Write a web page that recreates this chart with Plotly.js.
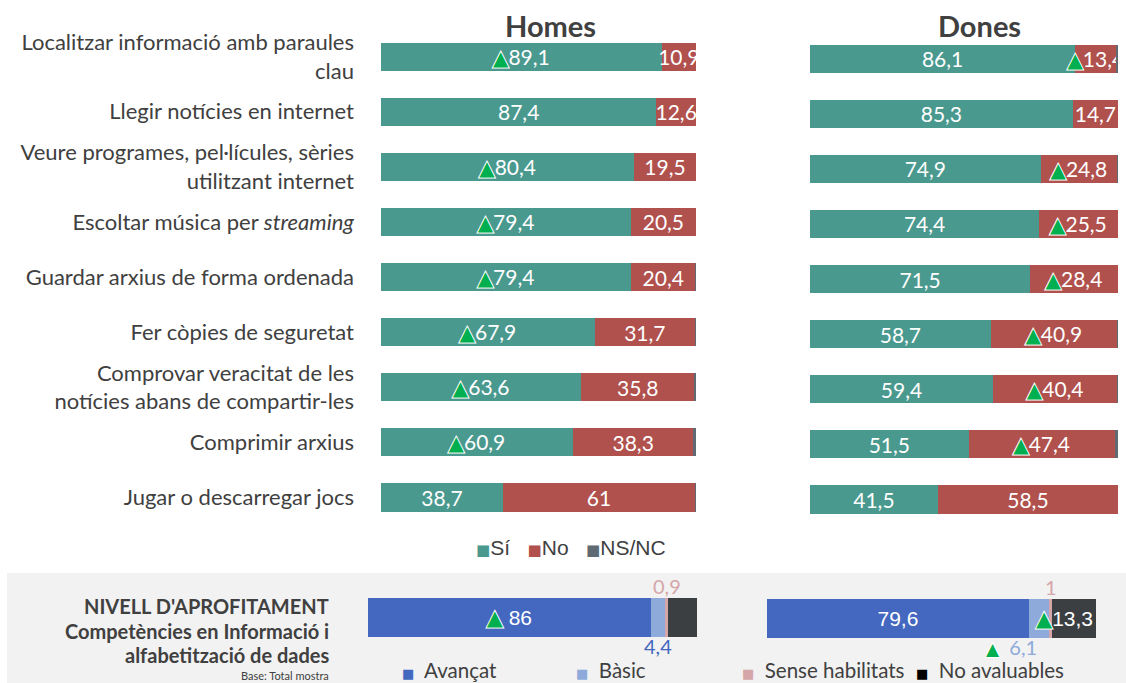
<!DOCTYPE html>
<html><head><meta charset="utf-8">
<script src="https://cdn.plot.ly/plotly-3.0.1.min.js"></script>
<style>html,body{margin:0;padding:0;background:#fff}#chart{width:1126px;height:683px}</style>
</head><body><div id="chart"></div>
<script>
// ---------- DATA ----------
const categories = [
  'Localitzar informació amb paraules<br>clau',
  'Llegir notícies en internet',
  'Veure programes, pel·lícules, sèries<br>utilitzant internet',
  'Escoltar música per <i>streaming</i>',
  'Guardar arxius de forma ordenada',
  'Fer còpies de seguretat',
  'Comprovar veracitat de les<br>notícies abans de compartir-les',
  'Comprimir arxius',
  'Jugar o descarregar jocs'
];
const panelTitles = ['Homes', 'Dones'];
const seriesNames = ['Sí', 'No', 'NS/NC'];
const homesSi   = [89.1, 87.4, 80.4, 79.4, 79.4, 67.9, 63.6, 60.9, 38.7];
const homesNo   = [10.9, 12.6, 19.5, 20.5, 20.4, 31.7, 35.8, 38.3, 61];
const homesNsnc = [0, 0, 0.1, 0.1, 0.2, 0.4, 0.6, 0.8, 0.3];
const homesSiSig = [1, 0, 1, 1, 1, 1, 1, 1, 0];
const donesSi   = [86.1, 85.3, 74.9, 74.4, 71.5, 58.7, 59.4, 51.5, 41.5];
const donesNo   = [13.4, 14.7, 24.8, 25.5, 28.4, 40.9, 40.4, 47.4, 58.5];
const donesNsnc = [0.5, 0, 0.3, 0.1, 0.1, 0.4, 0.2, 1.1, 0];
const donesNoSig = [1, 0, 1, 1, 1, 1, 1, 1, 0];

const levelTitle = ["NIVELL D'APROFITAMENT", 'Competències en Informació i', 'alfabetització de dades'];
const levelBase = 'Base: Total mostra';
const levelNames = ['Avançat', 'Bàsic', 'Sense habilitats', 'No avaluables'];
const homesLevel = [86, 4.4, 0.9, 8.8];
const donesLevel = [79.6, 6.1, 1, 13.3];
const homesLevelSig = [1, 0, 0, 0];
const donesLevelSig = [0, 1, 0, 1];

// ---------- STYLE ----------
const W = 1126, H = 683;
const px = x => x / W;
const py = y => 1 - y / H;
const serieColors = ['#4a998f', '#b0514d', '#5f6a72'];
const levelColors = ['#4468c0', '#8eaadb', '#d5a6a9', '#3b3f42'];
const textDark = '#404040';
const green = '#00b050';
const fmt = v => String(v).replace('.', ',');
const triSpan = (sz) => "<span style='color:" + green + ";font-family:DejaVu Sans;font-size:" + sz +
  "px;stroke:#ffffff;stroke-width:2px;paint-order:stroke'>▲</span>";
const tri = (s, sz) => triSpan(sz || 20) + (s || '');

const traces = [];
function topTraces(xa, ya, vals, sigIdx, sig) {
  vals.forEach((arr, k) => {
    const txt = arr.map((v, i) => {
      if (k === 2) return '';
      return (k === sigIdx && sig[i]) ? tri(fmt(v)) : fmt(v);
    });
    traces.push({
      type: 'bar', orientation: 'h', y: categories, x: arr,
      xaxis: xa, yaxis: ya, name: seriesNames[k], showlegend: false,
      marker: {color: serieColors[k]},
      text: txt, textposition: k === 2 ? 'none' : 'inside', textangle: 0,
      insidetextanchor: 'middle', constraintext: 'none',
      cliponaxis: xa === 'x',
      textfont: {family: 'Lato, sans-serif', size: 21, color: '#ffffff'},
      hoverinfo: 'skip'
    });
  });
}
topTraces('x', 'y', [homesSi, homesNo, homesNsnc], 0, homesSiSig);
topTraces('x2', 'y2', [donesSi, donesNo, donesNsnc], 1, donesNoSig);

const placement = ['inside', 'below', 'above', 'inside'];
const insideAnchor = ['middle', 'middle', 'middle', 'end'];
const annotations = [];
function levelTraces(xa, ya, cat, vals, sig, belowColor, belowAnchor, yAbove, yBelow) {
  let cum = 0;
  vals.forEach((v, i) => {
    const label = sig[i] ? tri((i === 0 ? ' ' : '') + fmt(v), 21) : fmt(v);
    traces.push({
      type: 'bar', orientation: 'h', y: [cat], x: [v], xaxis: xa, yaxis: ya,
      name: levelNames[i], showlegend: false, marker: {color: levelColors[i]},
      text: [placement[i] === 'inside' ? label : ''],
      textposition: placement[i] === 'inside' ? 'inside' : 'none', textangle: 0,
      insidetextanchor: insideAnchor[i], constraintext: 'none', cliponaxis: false,
      textfont: {family: '"Liberation Sans", Arial, sans-serif', size: 21, color: '#ffffff'},
      hoverinfo: 'skip'
    });
    const mid = cum + v / 2;
    if (placement[i] === 'above') {
      annotations.push({xref: xa, yref: 'paper', x: mid, y: yAbove, text: fmt(v), showarrow: false,
        xanchor: 'center', yanchor: 'middle', font: {family: 'Lato, sans-serif', size: 20, color: levelColors[2]}});
    } else if (placement[i] === 'below') {
      const t = sig[i] ? triSpan(17) + "  <span style='color:" + belowColor + "'>" + fmt(v) + "</span>" : fmt(v);
      annotations.push({xref: xa, yref: 'paper', x: mid, y: yBelow, text: t, showarrow: false,
        xanchor: belowAnchor, yanchor: 'middle', font: {family: 'Lato, sans-serif', size: 20, color: belowColor}});
    }
    cum += v;
  });
}
levelTraces('x3', 'y3', panelTitles[0], homesLevel, homesLevelSig, '#4468c0', 'center', py(586), py(646));
levelTraces('x4', 'y4', panelTitles[1], donesLevel, donesLevelSig, '#8eaadb', 'right', py(587), py(647));

// Panel titles
annotations.push({xref: 'paper', yref: 'paper', x: px(550), y: py(25), text: '<b>' + panelTitles[0] + '</b>', showarrow: false,
  xanchor: 'center', yanchor: 'middle', font: {family: 'Lato, sans-serif', size: 29, color: textDark}});
annotations.push({xref: 'paper', yref: 'paper', x: px(979), y: py(25), text: '<b>' + panelTitles[1] + '</b>', showarrow: false,
  xanchor: 'center', yanchor: 'middle', font: {family: 'Lato, sans-serif', size: 29, color: textDark}});

// Top legend
const sq = (c, sz) => "<span style='color:" + c + ";font-family:DejaVu Sans;font-size:" + sz + "px'>■</span>";
annotations.push({xref: 'paper', yref: 'paper', x: px(571), y: py(547),
  text: seriesNames.map((n, k) => sq(serieColors[k], 15) + n).join('   '), showarrow: false,
  xanchor: 'center', yanchor: 'middle', font: {family: '"Liberation Sans", Arial, sans-serif', size: 21, color: textDark}});

// Bottom legend
const legX = [400, 574, 740, 914];
levelNames.forEach((n, i) => {
  annotations.push({xref: 'paper', yref: 'paper', x: px(legX[i]), y: py(670),
    text: sq(i === 3 ? '#000000' : levelColors[i], 13) + '  ' + n, showarrow: false,
    xanchor: 'left', yanchor: 'middle', font: {family: 'Lato, sans-serif', size: 20.5, color: textDark}});
});

// Bottom-left block
const blockY = [606, 631, 655];
levelTitle.forEach((t, i) => {
  annotations.push({xref: 'paper', yref: 'paper', x: px(331), y: py(blockY[i]), text: '<b>' + t + '</b>', showarrow: false,
    xanchor: 'right', yanchor: 'middle', font: {family: 'Lato, sans-serif', size: 20, color: textDark}});
});
annotations.push({xref: 'paper', yref: 'paper', x: px(331), y: py(675), text: levelBase, showarrow: false,
  xanchor: 'right', yanchor: 'middle', font: {family: 'Lato, sans-serif', size: 11, color: textDark}});

const hiddenX = {range: [0, 100], visible: false, fixedrange: true};
const layout = {
  width: W, height: H, autosize: false,
  margin: {l: 0, r: 0, t: 0, b: 0, pad: 0},
  paper_bgcolor: '#ffffff', plot_bgcolor: 'rgba(0,0,0,0)',
  barmode: 'stack', bargap: 0.49, showlegend: false, hovermode: false,
  xaxis:  Object.assign({}, hiddenX, {domain: [px(381), px(696)], anchor: 'y'}),
  xaxis2: Object.assign({}, hiddenX, {domain: [px(810), px(1118)], anchor: 'y2'}),
  xaxis3: Object.assign({}, hiddenX, {domain: [px(368), px(697)], anchor: 'y3', range: [0, 100.1]}),
  xaxis4: Object.assign({}, hiddenX, {domain: [px(767), px(1096)], anchor: 'y4'}),
  yaxis: {domain: [py(525), py(29)], anchor: 'x', autorange: 'reversed', type: 'category',
    showgrid: false, zeroline: false, showline: false, ticks: '', automargin: false,
    ticklabelstandoff: 26, tickfont: {family: 'Lato, sans-serif', size: 22, color: textDark}},
  yaxis2: {domain: [py(527), py(31)], anchor: 'x2', autorange: 'reversed', type: 'category',
    showticklabels: false, showgrid: false, zeroline: false, ticks: ''},
  yaxis3: {domain: [py(656), py(579)], anchor: 'x3', type: 'category', visible: false},
  yaxis4: {domain: [py(657), py(580)], anchor: 'x4', type: 'category', visible: false},
  shapes: [{type: 'rect', xref: 'paper', yref: 'paper', x0: px(7), x1: 1, y0: 0, y1: py(573),
    fillcolor: '#f2f2f2', line: {width: 0}, layer: 'below'}],
  annotations: annotations
};
Plotly.newPlot('chart', traces, layout, {displayModeBar: false, staticPlot: true});
</script>
</body></html>
